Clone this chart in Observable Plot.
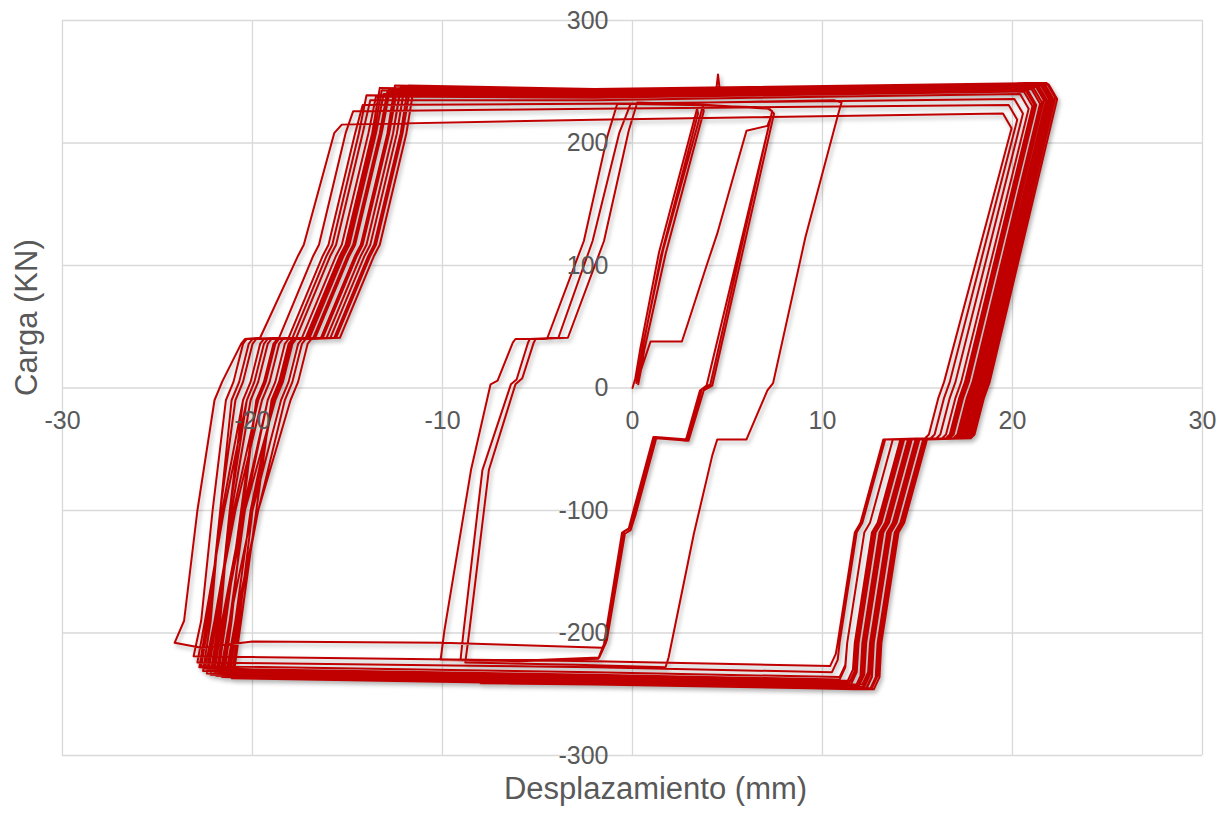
<!DOCTYPE html>
<html>
<head>
<meta charset="utf-8">
<script src="https://cdn.jsdelivr.net/npm/d3@7"></script>
<script src="https://cdn.jsdelivr.net/npm/@observablehq/plot@0.6"></script>
<style>
  html, body { margin: 0; padding: 0; background: #ffffff; }
  #chart { width: 1230px; height: 819px; }
</style>
</head>
<body>
<div id="chart"></div>
<script>
// Axis ticks
const xTicks = [-30, -20, -10, 0, 10, 20, 30];
const yTicks = [-300, -200, -100, 0, 100, 200, 300];
const xTitle = "Desplazamiento (mm)";
const yTitle = "Carga (KN)";

// [displacement mm, load kN] — initial elastic cycles and first slip
const initialCycles = [
  [0,0],[0.15,8],[0.42,33],[1.4,111],[3.4,228],[3.45,224],[1.5,108],[0.5,30],[0.2,4],
  [0.25,7],[0.55,35],[1.6,112],[3.7,230],[3.75,226],[1.75,110],[0.62,31],[0.3,3],
  [0.45,15],[0.95,38],[2.6,38],[2.9,52],[3.9,100],[4.46,126],[5.3,172],[6.0,210],[7.1,214],[7.3,222]
];

// medium amplitude cycles
const mediumCycle1 = [
  [3.9,2],[3.55,-2],[2.8,-43],[1.1,-40],[0,-103],[-0.2,-115],[-0.55,-118],[-1.5,-209],[-1.8,-221],
  [-6,-223],[-10.1,-222],[-9.9,-198],[-8.5,-67],[-7.47,3],[-7.1,6],[-6.3,37],[-6.16,40],[-4.5,40],
  [-2.56,120],[-1.33,205],[-0.8,232],[3,231],[7.0,229],[7.35,226]
];
const mediumCycle2 = [
  [4.1,3],[3.65,-1],[2.9,-42],[1.2,-40],[0.1,-102],[-0.12,-114],[-0.45,-117],[-1.4,-208],[-1.75,-220],
  [-5,-222],[-9.05,-222],[-8.9,-200],[-7.9,-67],[-6.4,3],[-6.1,7],[-5.5,37],[-5.4,40],[-3.9,41],
  [-2.1,120],[-0.7,208],[-0.1,232],[4,233],[10.6,235],[11.0,233]
];
const mediumCycle3 = [
  [10.8,222],[9.1,123],[7.4,4],[7.1,-2],[6.0,-42],[4.46,-42],[4.2,-55],[3.23,-119],[1.9,-220],[1.74,-228],
  [-3,-226],[-8.8,-224],[-8.6,-200],[-7.56,-67],[-6.16,3],[-5.8,8],[-5.2,37],[-5.1,40],[-3.4,41],
  [-1.5,120],[-0.2,210],[0.25,233],[4,231],[7.2,228],[7.45,224]
];
const mediumCycle4 = [
  [4.2,2],[3.75,-2],[2.95,-43],[1.25,-41],[0.15,-104],[-0.1,-116],[-0.4,-119],[-1.35,-206],[-1.6,-212],
  [-10,-208],[-20,-207],[-22.7,-212]
];

// large amplitude cycles
const loop01 = [[-24.1,-208],[-23.6,-190],[-22.9,-100],[-22.0,-10],[-21.6,5],[-20.6,36],[-20.4,40],[-19.6,41],[-17.6,108],[-17.3,117],[-15.7,208],[-15.3,215],
  [-2,219],[19.5,224],[19.95,212],[16.4,5],[16.1,-8],[15.6,-38],[15.4,-41],[13.2,-42],[12.0,-110],[11.7,-118],[10.8,-208],[10.7,-217],[10.4,-227],[-2,-223]];
const loop02 = [[-23.1,-219],[-22.7,-190],[-22.1,-100],[-21.4,-10],[-21.0,5],[-20.5,36],[-20.3,40],[-18.6,41],[-16.8,108],[-16.5,117],[-15.1,208],[-14.7,226],
  [-2,228],[19.8,231],[20.25,219],[16.7,5],[16.4,-8],[15.9,-38],[15.7,-41],[13.3,-42],[12.1,-110],[11.8,-118],[10.9,-208],[10.8,-222],[10.5,-232],[-2,-228]];
const loop03 = [[-22.9,-224],[-22.5,-190],[-21.5,-100],[-20.3,-10],[-19.9,5],[-19.4,36],[-19.2,40],[-18.1,41],[-16.3,108],[-16.0,117],[-14.6,208],[-14.2,231],
  [-2,232],[20.1,236],[20.55,224],[17.0,5],[16.7,-8],[16.2,-38],[16.0,-41],[13.7,-42],[12.5,-110],[12.2,-118],[11.3,-208],[11.2,-226],[10.9,-236],[-2,-232]];
const loop04 = [[-22.7,-227],[-22.3,-190],[-21.7,-100],[-20.9,-10],[-20.5,5],[-20.0,36],[-19.8,40],[-17.7,41],[-15.9,108],[-15.6,117],[-14.2,208],[-13.8,235],
  [-2,235],[20.4,240],[20.85,228],[17.3,5],[17.0,-8],[16.5,-38],[16.3,-41],[13.7,-42],[12.5,-110],[12.2,-118],[11.3,-208],[11.2,-228],[10.9,-238],[-2,-234]];
const loop05 = [[-22.5,-229],[-22.0,-190],[-20.9,-100],[-19.5,-10],[-19.1,5],[-18.6,36],[-18.4,40],[-17.4,41],[-15.6,108],[-15.3,117],[-13.9,208],[-13.5,238],
  [-2,237],[20.6,242],[21.05,230],[17.5,5],[17.2,-8],[16.7,-38],[16.5,-41],[14.1,-42],[12.9,-110],[12.6,-118],[11.7,-208],[11.6,-230],[11.3,-240],[-2,-235]];
const loop06 = [[-22.3,-230],[-21.9,-190],[-21.1,-100],[-20.1,-10],[-19.7,5],[-19.2,36],[-19.0,40],[-17.0,41],[-15.2,108],[-14.9,117],[-13.5,208],[-13.1,240],
  [-2,238],[20.8,243],[21.25,231],[17.7,5],[17.4,-8],[16.9,-38],[16.7,-41],[14.2,-42],[13.0,-110],[12.7,-118],[11.8,-208],[11.7,-231],[11.4,-241],[-2,-236]];
const loop07 = [[-22.1,-231],[-21.7,-190],[-21.2,-100],[-20.5,-10],[-20.1,5],[-19.6,36],[-19.4,40],[-16.7,41],[-14.9,108],[-14.6,117],[-13.2,208],[-12.8,241],
  [-2,239],[21.0,244],[21.45,232],[17.9,5],[17.6,-8],[17.1,-38],[16.9,-41],[14.3,-42],[13.1,-110],[12.8,-118],[11.9,-208],[11.8,-232],[11.5,-242],[-2,-237]];
const loop08 = [[-22.0,-232],[-21.6,-190],[-20.5,-100],[-19.2,-10],[-18.8,5],[-18.3,36],[-18.1,40],[-16.8,41],[-15.0,108],[-14.7,117],[-13.3,208],[-12.9,242],
  [-2,240],[4.4,242],[4.5,256],[4.6,242],[21.1,245],[21.55,233],[18.0,5],[17.7,-8],[17.2,-38],[17.0,-41],[14.6,-42],[13.4,-110],[13.1,-118],[12.2,-208],[12.1,-233],[11.8,-243],[-2,-238]];
const loop09 = [[-21.8,-233],[-21.4,-190],[-20.6,-100],[-19.8,-10],[-19.4,5],[-18.9,36],[-18.7,40],[-16.3,41],[-14.5,108],[-14.2,117],[-12.8,208],[-12.4,243],
  [-2,240],[21.3,246],[21.75,234],[18.2,5],[17.9,-8],[17.4,-38],[17.2,-41],[14.7,-42],[13.5,-110],[13.2,-118],[12.3,-208],[12.2,-233],[11.9,-243],[-2,-238]];
const loop10 = [[-21.7,-233],[-21.2,-190],[-20.0,-100],[-18.5,-10],[-18.1,5],[-17.6,36],[-17.4,40],[-16.1,41],[-14.3,108],[-14.0,117],[-12.6,208],[-12.2,244],
  [-2,241],[21.4,246],[21.85,234],[18.3,5],[18.0,-8],[17.5,-38],[17.3,-41],[14.6,-42],[13.4,-110],[13.1,-118],[12.2,-208],[12.1,-234],[11.8,-244],[-2,-239]];
const loop11 = [[-21.5,-234],[-21.1,-190],[-20.5,-100],[-19.8,-10],[-19.4,5],[-18.9,36],[-18.7,40],[-16.4,41],[-14.6,108],[-14.3,117],[-12.9,208],[-12.5,244],
  [-2,241],[21.5,247],[21.95,235],[18.4,5],[18.1,-8],[17.6,-38],[17.4,-41],[15.0,-42],[13.8,-110],[13.5,-118],[12.6,-208],[12.5,-234],[12.2,-244],[-2,-239]];
const loop12 = [[-21.4,-234],[-20.9,-190],[-20.1,-100],[-18.9,-10],[-18.5,5],[-18.0,36],[-17.8,40],[-15.9,41],[-14.1,108],[-13.8,117],[-12.4,208],[-12.0,245],
  [-2,242],[21.6,247],[22.05,235],[18.5,5],[18.2,-8],[17.7,-38],[17.5,-41],[14.9,-42],[13.7,-110],[13.4,-118],[12.5,-208],[12.4,-235],[12.1,-245],[-2,-240]];
const loop13 = [[-21.2,-235],[-20.8,-190],[-19.7,-100],[-18.3,-10],[-17.9,5],[-17.4,36],[-17.2,40],[-15.6,41],[-13.8,108],[-13.5,117],[-12.1,208],[-11.7,245],
  [-2,242],[21.7,248],[22.15,236],[18.6,5],[18.3,-8],[17.8,-38],[17.6,-41],[15.1,-42],[13.9,-110],[13.6,-118],[12.7,-208],[12.6,-235],[12.3,-245],[-2,-240]];
const loop14 = [[-21.0,-235],[-20.6,-190],[-19.8,-100],[-19.0,-10],[-18.6,5],[-18.1,36],[-17.9,40],[-15.9,41],[-14.1,108],[-13.8,117],[-12.4,208],[-12.0,246],
  [-2,243],[21.9,248],[22.35,236],[18.8,5],[18.5,-8],[18.0,-38],[17.8,-41],[15.3,-42],[14.1,-110],[13.8,-118],[12.9,-208],[12.8,-236],[12.5,-246],[-2,-241]];
const loop15 = [[-22.8,-228],[-22.4,-190],[-21.6,-100],[-20.5,-10],[-20.1,5],[-19.6,36],[-19.4,40],[-17.9,41],[-16.1,108],[-15.8,117],[-14.4,208],[-14.0,239],
  [-2,237],[20.7,243],[21.15,231],[17.6,5],[17.3,-8],[16.8,-38],[16.6,-41],[14.3,-42],[13.1,-110],[12.8,-118],[11.9,-208],[11.8,-229],[11.5,-239],[-2,-235]];
const loop16 = [[-22.6,-231],[-22.2,-190],[-21.7,-100],[-21.1,-10],[-20.7,5],[-20.2,36],[-20.0,40],[-17.1,41],[-15.3,108],[-15.0,117],[-13.6,208],[-13.2,243],
  [-2,241],[21.2,247],[21.65,235],[18.1,5],[17.8,-8],[17.3,-38],[17.1,-41],[14.9,-42],[13.7,-110],[13.4,-118],[12.5,-208],[12.4,-232],[12.1,-242],[-2,-238]];
const loop17 = [[-22.4,-233],[-22.0,-190],[-21.0,-100],[-19.7,-10],[-19.3,5],[-18.8,36],[-18.6,40],[-16.7,41],[-14.9,108],[-14.6,117],[-13.2,208],[-12.8,244],
  [-2,242],[21.6,248],[22.05,236],[18.5,5],[18.2,-8],[17.7,-38],[17.5,-41],[14.7,-42],[13.5,-110],[13.2,-118],[12.3,-208],[12.2,-234],[11.9,-244],[-2,-240]];
const loop18 = [[-22.2,-234],[-21.8,-190],[-21.2,-100],[-20.3,-10],[-19.9,5],[-19.4,36],[-19.2,40],[-17.2,41],[-15.4,108],[-15.1,117],[-13.7,208],[-13.3,245],
  [-2,243],[21.8,249],[22.25,237],[18.7,5],[18.4,-8],[17.9,-38],[17.7,-41],[15.4,-42],[14.2,-110],[13.9,-118],[13.0,-208],[12.9,-235],[12.6,-245],[-2,-241]];
const loop19 = [[-21.9,-235],[-21.5,-190],[-20.4,-100],[-18.8,-10],[-18.4,5],[-17.9,36],[-17.7,40],[-16.1,41],[-14.3,108],[-14.0,117],[-12.6,208],[-12.2,246],
  [-2,243],[21.2,248],[21.65,236],[18.1,5],[17.8,-8],[17.3,-38],[17.1,-41],[14.5,-42],[13.3,-110],[13.0,-118],[12.1,-208],[12.0,-236],[11.7,-246],[-2,-241]];
const loop20 = [[-21.6,-236],[-21.2,-190],[-20.4,-100],[-19.2,-10],[-18.8,5],[-18.3,36],[-18.1,40],[-16.4,41],[-14.6,108],[-14.3,117],[-12.9,208],[-12.5,247],
  [-2,244],[21.5,249],[21.95,237],[18.4,5],[18.1,-8],[17.6,-38],[17.4,-41],[14.5,-42],[13.3,-110],[13.0,-118],[12.1,-208],[12.0,-235],[11.7,-245],[-2,-241]];
const loop21 = [[-21.3,-236],[-20.9,-190],[-19.7,-100],[-18.0,-10],[-17.6,5],[-17.1,36],[-16.9,40],[-15.4,41],[-13.6,108],[-13.3,117],[-11.9,208],[-11.5,246],
  [-2,244],[21.8,249],[22.25,237],[18.7,5],[18.4,-8],[17.9,-38],[17.7,-41],[15.5,-42],[14.3,-110],[14.0,-118],[13.1,-208],[13.0,-236],[12.7,-246],[-2,-242]];
const loop22 = [[-21.1,-237],[-20.7,-190],[-20.0,-100],[-18.9,-10],[-18.5,5],[-18.0,36],[-17.8,40],[-15.7,41],[-13.9,108],[-13.6,117],[-12.2,208],[-11.8,247],
  [-2,244],[21.6,248],[22.05,236],[18.5,5],[18.2,-8],[17.7,-38],[17.5,-41],[15.1,-42],[13.9,-110],[13.6,-118],[12.7,-208],[12.6,-236],[12.3,-246],[-2,-242],[-8,-241]];

const path = [].concat(
  initialCycles, mediumCycle1, mediumCycle2, mediumCycle3, mediumCycle4,
  loop01, loop02, loop03, loop04, loop05, loop06, loop07, loop08, loop09, loop10, loop11,
  loop12, loop13, loop14, loop15, loop16, loop17, loop18, loop19, loop20, loop21, loop22
);

const textColor = "#595959";
const font = "'Liberation Sans', Arial, Helvetica, sans-serif";

const chart = Plot.plot({
  width: 1230,
  height: 819,
  marginLeft: 62,
  marginRight: 28,
  marginTop: 20,
  marginBottom: 64,
  style: { fontFamily: font, background: "#ffffff", overflow: "visible" },
  x: { domain: [-30, 30], axis: null },
  y: { domain: [-300, 300], axis: null },
  marks: [
    Plot.gridX(xTicks, { stroke: "#d9d9d9", strokeOpacity: 1, strokeWidth: 1.3 }),
    Plot.gridY(yTicks, { stroke: "#d9d9d9", strokeOpacity: 1, strokeWidth: 1.3 }),
    Plot.line(path, {
      x: d => d[0], y: d => d[1],
      stroke: "#c00000", strokeWidth: 2, strokeLinejoin: "round", strokeLinecap: "round"
    }),
    Plot.text(xTicks, {
      x: d => d, y: () => 0, text: d => String(d), dy: 33,
      fontSize: 25, fill: textColor, textAnchor: "middle"
    }),
    Plot.text(yTicks, {
      x: () => 0, y: d => d, text: d => String(d), dx: -24,
      fontSize: 25, fill: textColor, textAnchor: "end"
    }),
    Plot.text([xTitle], {
      frameAnchor: "bottom", text: d => d, dx: 23, dy: 43,
      fontSize: 31, fill: textColor
    }),
    Plot.text([yTitle], {
      frameAnchor: "left", text: d => d, rotate: -90, dx: -35, dy: 8,
      fontSize: 31, fill: textColor
    })
  ]
});

const lineGroup = chart.querySelector('g[aria-label="line"]');
if (lineGroup) lineGroup.style.filter = "drop-shadow(2px 3px 2px rgba(0,0,0,0.3))";

document.getElementById("chart").appendChild(chart);
</script>
</body>
</html>
